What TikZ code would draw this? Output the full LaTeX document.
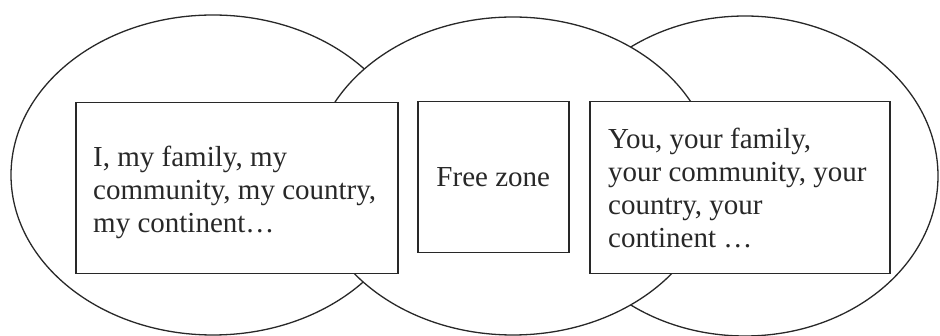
\documentclass[tikz,border=0pt]{standalone}
\usepackage{fontspec}
\setmainfont{Liberation Serif}
\usetikzlibrary{calc}
\definecolor{ink}{RGB}{40,40,40}
\tikzset{
  zone/.style={draw=ink, line width=1.3pt, fill=white},
  boxstyle/.style={draw=ink, line width=1.5pt, fill=white, rectangle, inner sep=0pt, anchor=north west},
  txt/.style={font=\fontsize{29}{33}\selectfont, align=left, inner sep=0pt, text=ink}
}
\begin{document}
\begin{tikzpicture}[x=1pt,y=-1pt]
\useasboundingbox (0,0) rectangle (940,336);
% ellipses
\draw[zone] (213,175) ellipse [x radius=202, y radius=160];
\draw[zone] (745,176) ellipse [x radius=193, y radius=160];
\draw[zone] (513,176) ellipse [x radius=201, y radius=159];
% boxes
\node[boxstyle, minimum width=322pt, minimum height=171pt] (L) at (75,102) {};
\node[boxstyle, minimum width=151pt, minimum height=151pt] (M) at (417,101) {};
\node[boxstyle, minimum width=300pt, minimum height=172pt] (R) at (589,101) {};
% texts
\node[txt, anchor=north west] (Lt) at ($(L.north west)+(18,44)$) {I, my family, my\\community, my country,\\my continent\ldots};
\node[txt] (Mt) at (M.center) {Free zone};
\node[txt, anchor=north west] (Rt) at ($(R.north west)+(19,27)$) {You, your family,\\your community, your\\country, your\\continent \ldots};
\end{tikzpicture}
\end{document}
